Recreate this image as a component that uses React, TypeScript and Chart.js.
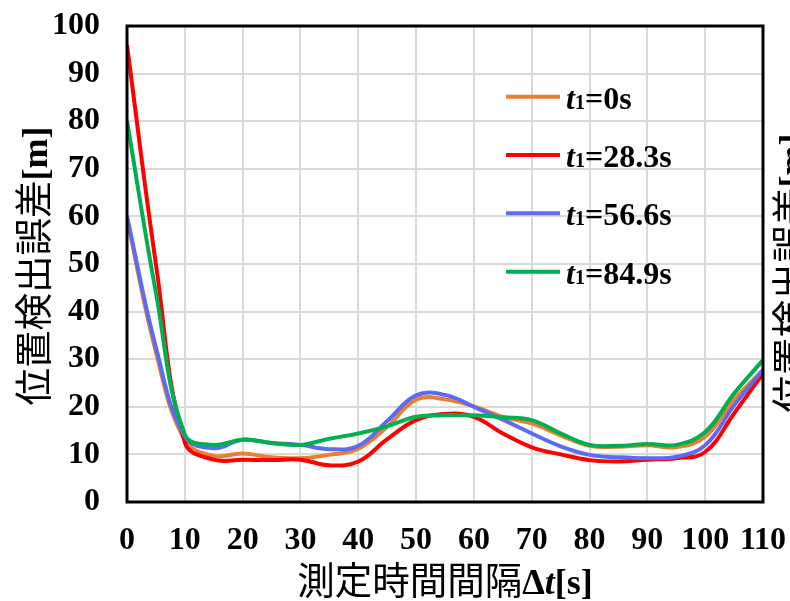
import React, { useEffect, useRef } from 'react';
import { Chart, registerables } from 'chart.js';

Chart.register(...registerables);

// Measurement interval Δt [s]
const intervals = [0, 5, 10, 15, 20, 25, 30, 35, 40, 45, 50, 55, 60, 65, 70, 75, 80, 85, 90, 95, 100, 105, 110];

// Position detection error [m] for each start time t1
const errT1_0 = [59.5, 31.5, 13.0, 9.7, 10.2, 9.4, 9.2, 9.9, 11.2, 15.8, 21.5, 21.6, 20.1, 17.9, 16.5, 14.0, 11.8, 11.6, 11.9, 11.5, 13.7, 21.5, 27.7];
const errT1_283 = [96, 50, 12.5, 8.9, 8.9, 8.8, 8.9, 7.7, 8.5, 13.2, 17.2, 18.5, 17.9, 14.4, 11.5, 10.0, 8.8, 8.5, 8.9, 9.2, 10.5, 18.6, 27.0];
const errT1_566 = [60, 32.5, 13.8, 11.3, 13.1, 12.4, 12.0, 11.1, 11.8, 17.0, 22.4, 22.5, 20.0, 17.3, 14.4, 11.7, 9.9, 9.4, 9.2, 9.5, 11.9, 20.3, 27.8];
const errT1_849 = [80, 44, 14.2, 12.0, 13.1, 12.4, 12.0, 13.3, 14.4, 15.9, 17.9, 18.2, 18.2, 17.8, 17.2, 14.4, 12.0, 11.8, 12.2, 12.0, 14.7, 22.8, 29.8];

const seriesT1 = ['0', '28.3', '56.6', '84.9'];
const seriesValues = [errT1_0, errT1_283, errT1_566, errT1_849];
const seriesColors = ['#ED7D31', '#FF0000', '#5B6CF2', '#00B050'];

const SERIF = '"Liberation Serif", "Times New Roman", serif';
const CJK = `37.5px ${SERIF}, "Noto Sans CJK JP"`;
const BOLD36 = `bold 36px ${SERIF}`;
const BOLD_IT36 = `italic bold 36px ${SERIF}`;

type Run = { text: string; font: string; dy?: number };

const yTitleRuns: Run[] = [
  { text: '位置検出誤差', font: CJK },
  { text: '[m]', font: BOLD36 },
];
const xTitleRuns: Run[] = [
  { text: '測定時間間隔', font: CJK },
  { text: 'Δ', font: BOLD36 },
  { text: 't', font: BOLD_IT36 },
  { text: '[s]', font: BOLD36 },
];

function runsWidth(ctx: CanvasRenderingContext2D, runs: Run[]) {
  let w = 0;
  for (const r of runs) {
    ctx.font = r.font;
    w += ctx.measureText(r.text).width;
  }
  return w;
}

function drawRuns(ctx: CanvasRenderingContext2D, runs: Run[], x: number, baseline: number) {
  ctx.textBaseline = 'alphabetic';
  ctx.textAlign = 'left';
  let cx = x;
  for (const r of runs) {
    ctx.font = r.font;
    ctx.fillText(r.text, cx, baseline + (r.dy || 0));
    cx += ctx.measureText(r.text).width;
  }
}

const decorations = {
  id: 'decorations',
  afterDatasetsDraw(chart: Chart) {
    const { ctx, chartArea } = chart;
    ctx.save();
    ctx.strokeStyle = '#000';
    ctx.lineWidth = 3;
    ctx.strokeRect(chartArea.left, chartArea.top, chartArea.right - chartArea.left, chartArea.bottom - chartArea.top);
    ctx.restore();
  },
  afterDraw(chart: Chart) {
    const { ctx, chartArea } = chart;
    ctx.save();
    ctx.fillStyle = '#000';

    // x axis title
    const xw = runsWidth(ctx, xTitleRuns);
    const xc = (chartArea.left + chartArea.right) / 2;
    drawRuns(ctx, xTitleRuns, xc - xw / 2, 594);

    // y axis title (left) and its copy on the right edge
    const yw = runsWidth(ctx, yTitleRuns);
    const placements = [
      { x: 47, y: 266 },
      { x: 804, y: 273 },
    ];
    for (const p of placements) {
      ctx.save();
      ctx.translate(p.x, p.y);
      ctx.rotate(-Math.PI / 2);
      drawRuns(ctx, yTitleRuns, -yw / 2, 0);
      ctx.restore();
    }

    // legend
    const rows = [96.7, 155, 213.3, 271.7];
    seriesT1.forEach((t1, i) => {
      const y = rows[i];
      ctx.strokeStyle = seriesColors[i];
      ctx.lineWidth = 4;
      ctx.beginPath();
      ctx.moveTo(506, y);
      ctx.lineTo(560, y);
      ctx.stroke();
      drawRuns(
        ctx,
        [
          { text: 't', font: `italic bold 32px ${SERIF}` },
          { text: '1', font: `bold 20px ${SERIF}` },
          { text: `=${t1}s`, font: `bold 32px ${SERIF}` },
        ],
        566,
        y + 12
      );
    });
    ctx.restore();
  },
};

export default function App() {
  const ref = useRef<HTMLCanvasElement>(null);

  useEffect(() => {
    if (!ref.current) return;
    const tickFont = { family: SERIF, size: 32, weight: 'bold' as const };
    const chart = new Chart(ref.current, {
      type: 'line',
      data: {
        datasets: seriesValues.map((vals, i) => ({
          label: `t1=${seriesT1[i]}s`,
          data: vals.map((v, k) => ({ x: intervals[k], y: v })),
          borderColor: seriesColors[i],
          backgroundColor: seriesColors[i],
          borderWidth: 4,
          pointRadius: 0,
          tension: 0.4,
          fill: false,
          order: seriesValues.length - i,
        })),
      },
      options: {
        responsive: false,
        animation: false,
        layout: { padding: { top: 26, right: 27, left: 0, bottom: 0 } },
        plugins: {
          legend: { display: false },
          tooltip: { enabled: false },
          title: { display: false },
        },
        scales: {
          x: {
            type: 'linear',
            min: 0,
            max: 110,
            ticks: { stepSize: 10, color: '#000', font: tickFont, padding: 20, maxRotation: 0, autoSkip: false },
            grid: { color: '#D9D9D9', lineWidth: 2, drawTicks: false },
            border: { display: false },
            afterFit(scale: any) {
              scale.height = 99;
              scale.paddingLeft = 0;
              scale.paddingRight = 0;
            },
          },
          y: {
            type: 'linear',
            min: 0,
            max: 100,
            ticks: { stepSize: 10, color: '#000', font: tickFont, padding: 27 },
            grid: { color: '#D9D9D9', lineWidth: 2, drawTicks: false },
            border: { display: false },
            afterFit(scale: any) {
              scale.width = 127;
              scale.paddingTop = 0;
              scale.paddingBottom = 0;
            },
          },
        },
      },
      plugins: [decorations],
    });
    return () => chart.destroy();
  }, []);

  return (
    <div style={{ position: 'absolute', left: 0, top: 0, width: 790, height: 601, background: '#fff' }}>
      <canvas ref={ref} width={790} height={601} style={{ display: 'block' }} />
    </div>
  );
}
